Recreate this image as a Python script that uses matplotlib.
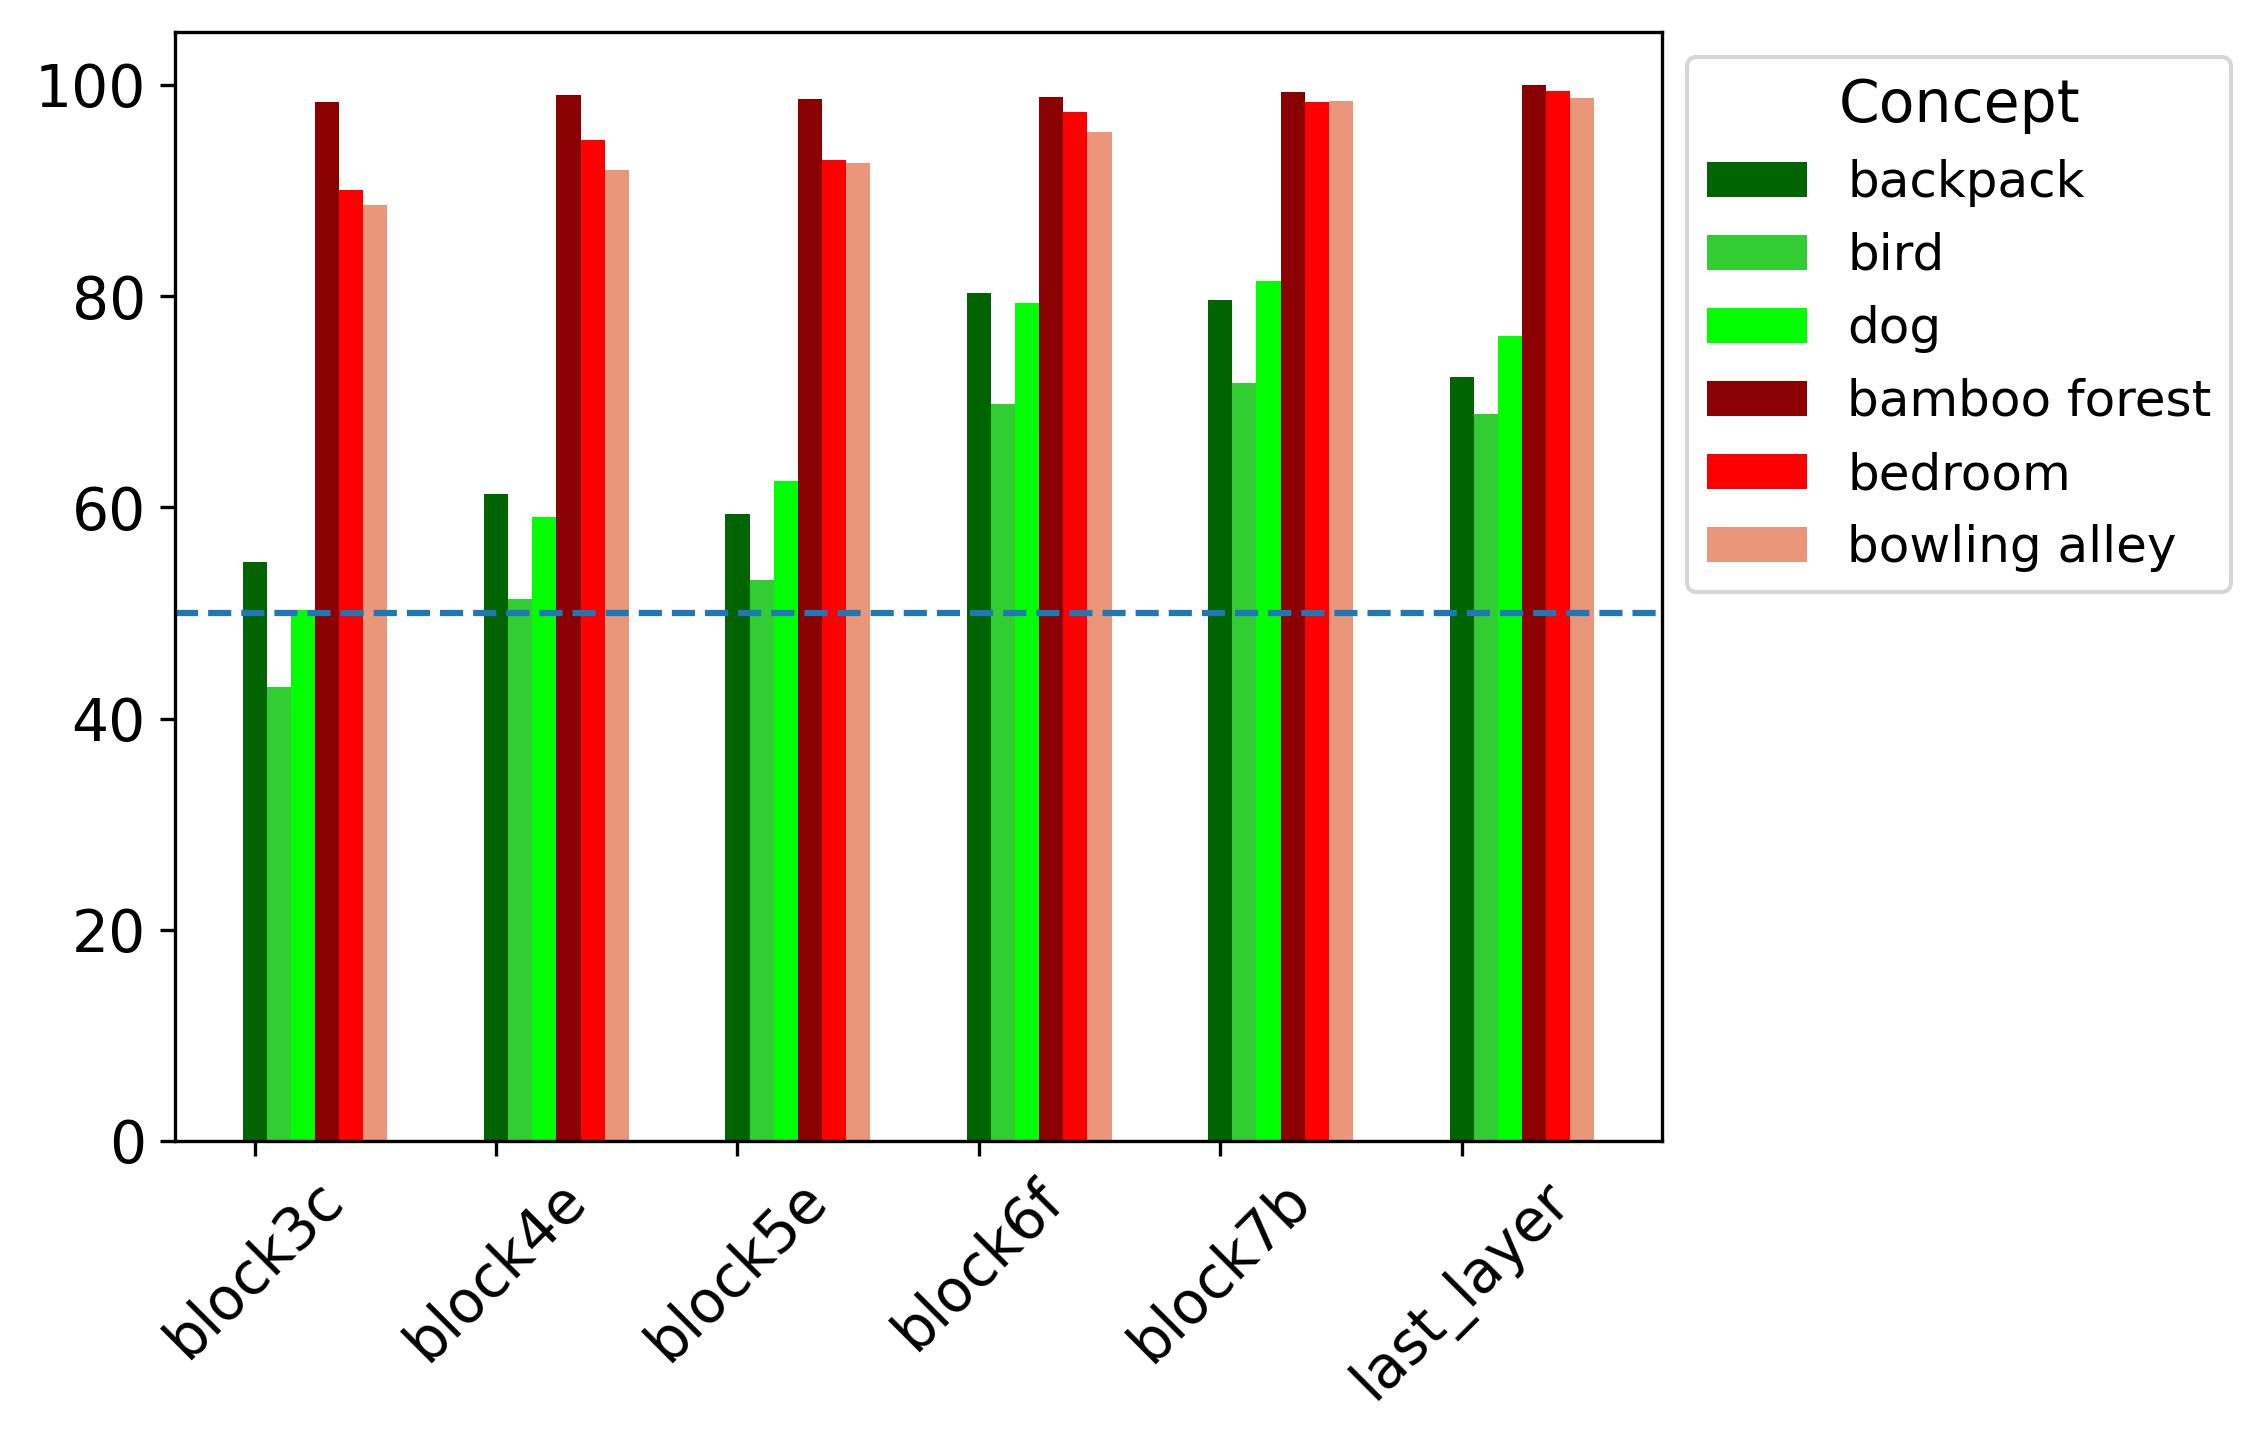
import numpy as np
import matplotlib
matplotlib.use("Agg")
import matplotlib.pyplot as plt

layers = ["block3c", "block4e", "block5e", "block6f", "block7b", "last_layer"]
concepts = ["backpack", "bird", "dog", "bamboo forest", "bedroom", "bowling alley"]
colors = ["darkgreen", "limegreen", "lime", "darkred", "red", "darksalmon"]

backpack = [54.8, 61.3, 59.35, 80.3, 79.6, 72.3]
bird = [43.0, 51.3, 53.1, 69.8, 71.8, 68.8]
dog = [50.3, 59.1, 62.5, 79.35, 81.4, 76.2]
bamboo_forest = [98.4, 99.06, 98.66, 98.86, 99.34, 100.0]
bedroom = [90.0, 94.8, 92.9, 97.44, 98.4, 99.43]
bowling_alley = [88.65, 91.96, 92.6, 95.55, 98.5, 98.77]

series = [backpack, bird, dog, bamboo_forest, bedroom, bowling_alley]

fig = plt.figure(figsize=(2262 / 300, 1447 / 300), dpi=300)
ax = fig.add_axes([175 / 2262, 1 - 1141 / 1447, (1662 - 175) / 2262, (1141 - 32) / 1447])

x = np.arange(len(layers))
w = 0.1
for i, (name, vals, c) in enumerate(zip(concepts, series, colors)):
    ax.bar(x + i * w, vals, w, color=c, label=name)

ax.axhline(50, linestyle="--", color="C0", linewidth=1.5)
ax.set_xticks(x)
ax.set_xticklabels(layers, rotation=45, fontsize=14)
ax.tick_params(axis="y", labelsize=14)

ax.legend(title="Concept", loc="upper left", bbox_to_anchor=(1, 1), fontsize=12, title_fontsize=14)

fig.savefig("out.png", dpi=300)
